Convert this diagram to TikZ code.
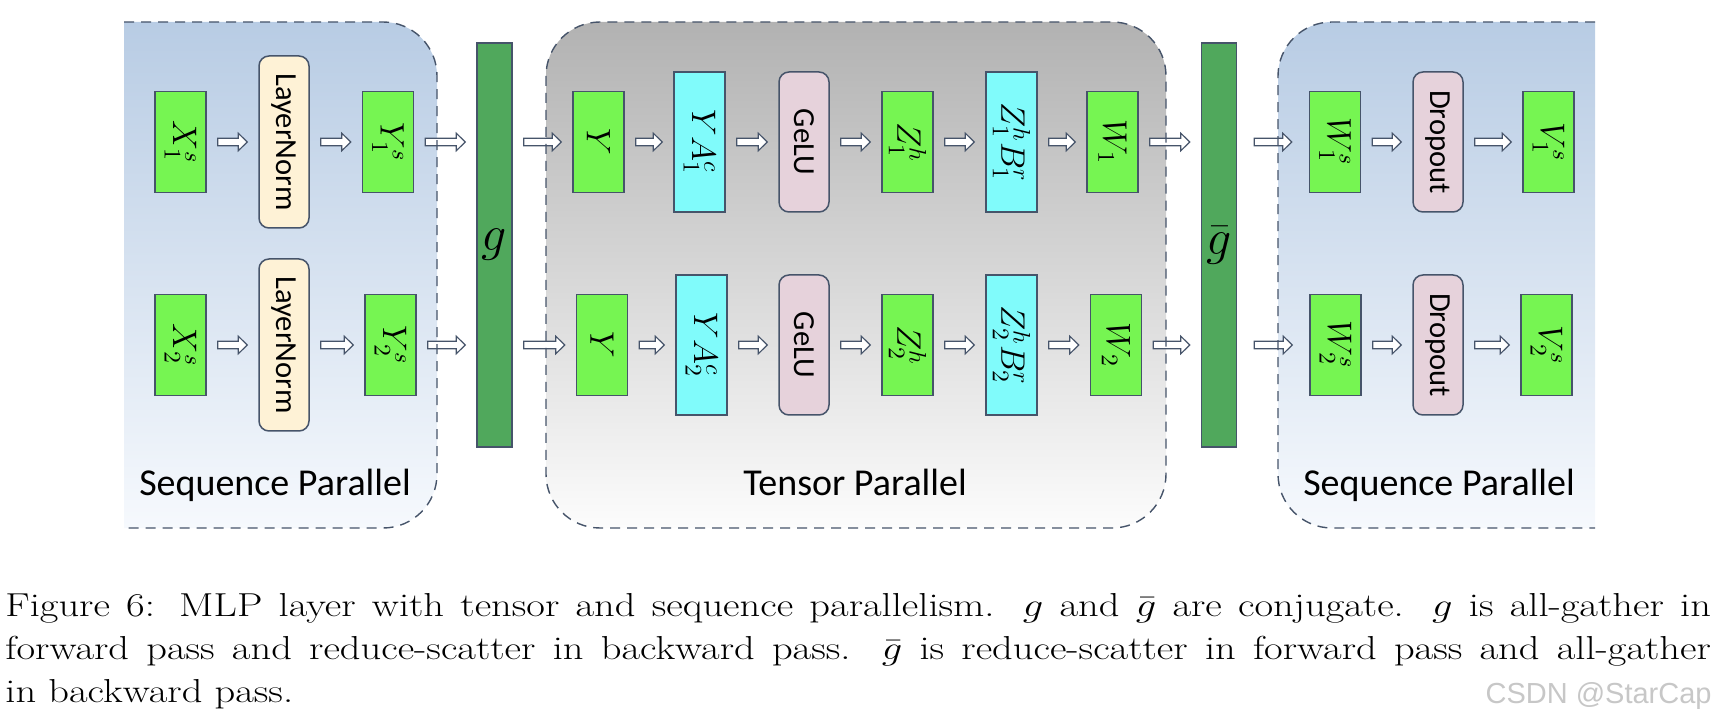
\documentclass[tikz,border=0pt]{standalone}
\usepackage{fix-cm}
\usepackage{fontspec}
\usepackage{graphicx}
\usepackage{tikz}
\usetikzlibrary{calc}
\newfontfamily\calfont{Carlito}
\newfontfamily\wmfont{Liberation Sans}
\definecolor{slate}{RGB}{70,84,106}
\definecolor{lime}{RGB}{118,245,82}
\definecolor{aqua}{RGB}{128,251,251}
\definecolor{barg}{RGB}{80,168,92}
\definecolor{mauve}{RGB}{230,210,219}
\definecolor{cream}{RGB}{254,242,214}
\definecolor{bluetop}{RGB}{184,204,228}
\definecolor{bluebot}{RGB}{246,249,253}
\definecolor{greytop}{RGB}{178,178,178}
\definecolor{greybot}{RGB}{252,252,252}
\newcommand{\vlabel}[1]{\rotatebox{-90}{#1}}
\newcommand{\capline}[1]{\scalebox{1.22}[1]{\makebox[699pt][s]{#1}}}

\begin{document}
\begin{tikzpicture}[x=0.5pt,y=-0.5pt,
  sbox/.style={draw=slate, line width=0.75pt, fill=lime, inner sep=0pt,
    minimum width=25.5pt, minimum height=50.5pt, font=\fontsize{17}{19}\selectfont},
  lbox/.style={sbox, fill=aqua, minimum height=70pt},
  opbox/.style={draw=slate, line width=0.75pt, fill=mauve, rounded corners=5pt, inner sep=0pt,
    minimum width=25pt, minimum height=70pt, font=\calfont\fontsize{15.3}{17}\selectfont},
  lnbox/.style={opbox, fill=cream, minimum height=86pt},
  bar/.style={draw=slate, line width=0.75pt, fill=barg, inner sep=0pt,
    minimum width=17.5pt, minimum height=202pt, font=\fontsize{25}{27}\selectfont},
  region/.style={draw=slate, line width=0.7pt, dash pattern=on 5pt off 3.5pt},
  title/.style={anchor=base, font=\calfont\fontsize{19}{21}\selectfont},
  captext/.style={anchor=base west, inner sep=0pt, font=\fontsize{16.6}{21}\selectfont},
  flow/.style={draw=slate, line width=0.6pt, fill=white,
    to path={let \p1=(\tikztostart), \p2=(\tikztotarget) in
      (\x1+5.5pt,\y1+1.9pt) -- (\x2-10pt,\y1+1.9pt) -- (\x2-10pt,\y1+4.4pt) -- (\x2-5.5pt,\y1)
      -- (\x2-10pt,\y1-4.4pt) -- (\x2-10pt,\y1-1.9pt) -- (\x1+5.5pt,\y1-1.9pt) -- cycle}}]
\useasboundingbox (0,0) rectangle (1722,726);

\shade[top color=bluetop, bottom color=bluebot] (124,22) -- (383,22) arc[start angle=90, end angle=0, radius=27pt]
  -- (437,474) arc[start angle=0, end angle=-90, radius=27pt] -- (124,528) -- cycle;
\shade[top color=greytop, bottom color=greybot, rounded corners=27pt] (546,22) rectangle (1166,528);
\shade[top color=bluetop, bottom color=bluebot] (1595,22) -- (1332,22) arc[start angle=90, end angle=180, radius=27pt]
  -- (1278,474) arc[start angle=180, end angle=270, radius=27pt] -- (1595,528) -- cycle;

\node[sbox] (x1s) at (180.5,142) {\vlabel{$X_1^s$}};
\node[lnbox] (ln1) at (284,142) {\vlabel{LayerNorm}};
\node[sbox] (y1s) at (388,142) {\vlabel{$Y_1^s$}};
\node[sbox] (x2s) at (180.5,345) {\vlabel{$X_2^s$}};
\node[lnbox] (ln2) at (284,345) {\vlabel{LayerNorm}};
\node[sbox] (y2s) at (390.5,345) {\vlabel{$Y_2^s$}};
\node[bar] (g) at (494.5,245) {$g$};

\node[sbox] (y1) at (598.5,142) {\vlabel{$Y$}};
\node[lbox] (ya1) at (699.5,142) {\vlabel{$YA_1^c$}};
\node[opbox] (gelu1) at (804,142) {\vlabel{GeLU}};
\node[sbox] (z1) at (907.5,142) {\vlabel{$Z_1^h$}};
\node[lbox] (zb1) at (1011.5,142) {\vlabel{$Z_1^hB_1^r$}};
\node[sbox] (w1) at (1112.5,142) {\vlabel{$W_1$}};
\node[sbox] (y2) at (602,345) {\vlabel{$Y$}};
\node[lbox] (ya2) at (701.5,345) {\vlabel{$YA_2^c$}};
\node[opbox] (gelu2) at (804,345) {\vlabel{GeLU}};
\node[sbox] (z2) at (907.5,345) {\vlabel{$Z_2^h$}};
\node[lbox] (zb2) at (1011.5,345) {\vlabel{$Z_2^hB_2^r$}};
\node[sbox] (w2) at (1116,345) {\vlabel{$W_2$}};
\node[bar] (gbar) at (1219,245) {$\bar{g}$};

\node[sbox] (ws1) at (1335,142) {\vlabel{$W_1^s$}};
\node[opbox] (drop1) at (1438,142) {\vlabel{Dropout}};
\node[sbox] (vs1) at (1548.5,142) {\vlabel{$V_1^s$}};
\node[sbox] (ws2) at (1335.5,345) {\vlabel{$W_2^s$}};
\node[opbox] (drop2) at (1438,345) {\vlabel{Dropout}};
\node[sbox] (vs2) at (1546.5,345) {\vlabel{$V_2^s$}};

\draw[flow] (x1s.east) to (ln1.west);
\draw[flow] (ln1.east) to (y1s.west);
\draw[flow] (y1s.east) to (y1s.east -| g.west);
\draw[flow] (x2s.east) to (ln2.west);
\draw[flow] (ln2.east) to (y2s.west);
\draw[flow] (y2s.east) to (y2s.east -| g.west);
\draw[flow] (g.east |- y1.west) to (y1.west);
\draw[flow] (y1.east) to (ya1.west);
\draw[flow] (ya1.east) to (gelu1.west);
\draw[flow] (gelu1.east) to (z1.west);
\draw[flow] (z1.east) to (zb1.west);
\draw[flow] (zb1.east) to (w1.west);
\draw[flow] (w1.east) to (w1.east -| gbar.west);
\draw[flow] (g.east |- y2.west) to (y2.west);
\draw[flow] (y2.east) to (ya2.west);
\draw[flow] (ya2.east) to (gelu2.west);
\draw[flow] (gelu2.east) to (z2.west);
\draw[flow] (z2.east) to (zb2.west);
\draw[flow] (zb2.east) to (w2.west);
\draw[flow] (w2.east) to (w2.east -| gbar.west);
\draw[flow] ($(gbar.east |- ws1.west)+(3pt,0)$) to ($(ws1.west)+(-3pt,0)$);
\draw[flow] (ws1.east) to (drop1.west);
\draw[flow] (drop1.east) to (vs1.west);
\draw[flow] ($(gbar.east |- ws2.west)+(3pt,0)$) to ($(ws2.west)+(-3pt,0)$);
\draw[flow] (ws2.east) to (drop2.west);
\draw[flow] (drop2.east) to (vs2.west);

\draw[region] (124,22) -- (383,22) arc[start angle=90, end angle=0, radius=27pt]
  -- (437,474) arc[start angle=0, end angle=-90, radius=27pt] -- (124,528);
\draw[region, rounded corners=27pt] (546,22) rectangle (1166,528);
\draw[region] (1595,22) -- (1332,22) arc[start angle=90, end angle=180, radius=27pt]
  -- (1278,474) arc[start angle=180, end angle=270, radius=27pt] -- (1595,528);

\node[title] (sp1) at (275,495) {Sequence Parallel};
\node[title] (tp) at (855,495) {Tensor Parallel};
\node[title] (sp2) at (1439,495) {Sequence Parallel};

\node[captext] (cap1) at (5,616)
  {\capline{Figure 6: MLP layer with tensor and sequence parallelism. $g$ and $\bar{g}$ are conjugate. $g$ is all-gather in}};
\node[captext] (cap2) at (5,659)
  {\capline{forward pass and reduce-scatter in backward pass. $\bar{g}$ is reduce-scatter in forward pass and all-gather}};
\node[captext] (cap3) at (5,702) {\scalebox{1.22}[1]{in backward pass.}};
\node[anchor=base east, inner sep=0pt, text=black!22, font=\wmfont\fontsize{14.5}{16}\selectfont] (mark) at (1712,703) {CSDN @StarCap};
\end{tikzpicture}
\end{document}
